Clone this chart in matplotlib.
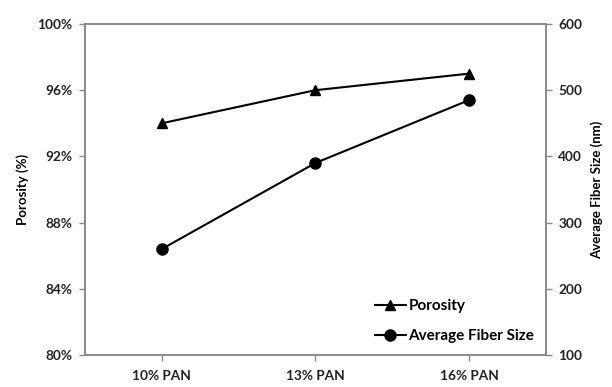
import matplotlib
matplotlib.use('Agg')
import matplotlib.pyplot as plt
from matplotlib.ticker import FuncFormatter

categories = ['10% PAN', '13% PAN', '16% PAN']
porosity = [94.0, 96.0, 97.0]          # %
fiber_size = [260, 390, 485]           # nm

plt.rcParams['font.family'] = ['Lato', 'DejaVu Sans']
plt.rcParams['font.weight'] = 'bold'
plt.rcParams['axes.labelweight'] = 'bold'

GRAY = '#8a8a8a'


def style_axis(ax):
    for s in ax.spines.values():
        s.set_color(GRAY)
        s.set_linewidth(1.2)
    ax.tick_params(colors=GRAY, labelcolor='#222222', labelsize=9.8, length=4, width=1)


fig = plt.figure(figsize=(6.12, 3.87), dpi=100)
ax = fig.add_axes([0.139, 0.083, 0.753, 0.855])
ax2 = ax.twinx()

x = range(len(categories))
l1, = ax.plot(x, porosity, color='black', lw=1.5, marker='^', ms=7.5, label='Porosity')
l2, = ax2.plot(x, fiber_size, color='black', lw=1.5, marker='o', ms=8, label='Average Fiber Size')

ax.set_xlim(-0.5, 2.5)
ax.set_ylim(80, 100)
ax.set_yticks(range(80, 101, 4))
ax.yaxis.set_major_formatter(FuncFormatter(lambda v, p: f'{v:.0f}%'))
ax.set_xticks(list(x))
ax.set_xticklabels(categories)
ax2.set_ylim(100, 600)
ax2.set_yticks(range(100, 601, 100))

style_axis(ax)
style_axis(ax2)
ax.tick_params(axis='y', pad=5)
ax2.tick_params(axis='y', pad=5)
ax.tick_params(axis='x', pad=7)

ax.set_ylabel('Porosity (%)', fontsize=9.5, labelpad=6)
ax2.set_ylabel('Average Fiber Size (nm)', fontsize=9.5, labelpad=6)

ax.legend(handles=[l1, l2], loc='lower right', bbox_to_anchor=(1.0, 0.0),
          frameon=False, fontsize=11, handlelength=2.0, handletextpad=0.2,
          labelspacing=1.05, borderaxespad=0.35)

fig.savefig('out.png', dpi=100)
